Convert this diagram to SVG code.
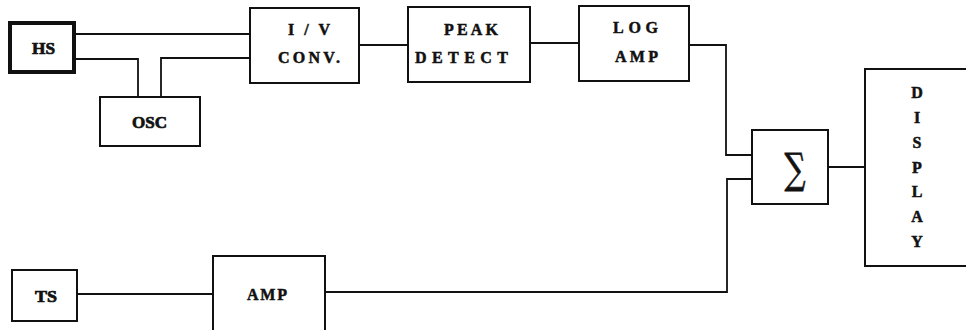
<svg xmlns="http://www.w3.org/2000/svg" width="966" height="330" viewBox="0 0 966 330">
<style>
.box{fill:#fff;stroke:#111;stroke-width:2}
.thick{fill:#fff;stroke:#111;stroke-width:4}
.wire{fill:none;stroke:#111;stroke-width:1.8}
text{font-family:"Liberation Serif","Times New Roman",serif;font-weight:bold;font-size:16px;fill:#111;text-anchor:middle;stroke:#111;stroke-width:0.5}
.big{font-size:17px;stroke-width:0.7}
</style>
<rect width="966" height="330" fill="#fff"/>
<g id="connectors">
<path class="wire" d="M75,34 H250"/>
<path class="wire" d="M75,59 H138 V97"/>
<path class="wire" d="M161,97 V58 H250"/>
<path class="wire" d="M359,45 H408"/>
<path class="wire" d="M530,43 H579"/>
<path class="wire" d="M689,45 H726 V155 H752"/>
<path class="wire" d="M325,292 H727 V179 H752"/>
<path class="wire" d="M828,167 H865"/>
<path class="wire" d="M77,294 H213"/>
</g>
<g id="hs">
<rect class="thick" x="10" y="23" width="64" height="49"/>
<text class="big" x="43.5" y="53.5" textLength="23" lengthAdjust="spacingAndGlyphs">HS</text>
</g>
<g id="osc">
<rect class="box" x="100" y="97" width="100" height="49"/>
<text class="big" x="149.5" y="128" textLength="35" lengthAdjust="spacingAndGlyphs">OSC</text>
</g>
<g id="iv">
<rect class="box" x="250" y="8" width="109" height="75"/>
<text x="309" y="35" textLength="42" lengthAdjust="spacing">I / V</text>
<text x="309" y="63" textLength="62" lengthAdjust="spacing">CONV.</text>
</g>
<g id="peak">
<rect class="box" x="408" y="7" width="122" height="75"/>
<text x="471" y="35" textLength="54" lengthAdjust="spacing">PEAK</text>
<text x="461.5" y="63" textLength="93" lengthAdjust="spacing">DETECT</text>
</g>
<g id="logamp">
<rect class="box" x="579" y="6" width="110" height="75"/>
<text x="635.5" y="33" textLength="45" lengthAdjust="spacing">LOG</text>
<text x="636.5" y="62" textLength="43" lengthAdjust="spacing">AMP</text>
</g>
<g id="sum">
<rect class="box" x="752" y="130" width="76" height="74"/>
<text transform="translate(795,183) scale(0.7,1)" x="0" y="0" style="font-weight:normal;font-size:42px;stroke-width:0.8;font-family:'DejaVu Serif','Liberation Serif',serif">∑</text>
</g>
<g id="display">
<rect class="box" x="865" y="69" width="110" height="197"/>
<text x="917" y="98">D</text>
<text x="917" y="123">I</text>
<text x="917" y="148">S</text>
<text x="917" y="173">P</text>
<text x="917" y="197">L</text>
<text x="917" y="222">A</text>
<text x="917" y="247">Y</text>
</g>
<g id="ts">
<rect class="box" x="12" y="270" width="65" height="51"/>
<text class="big" x="46" y="302" textLength="22" lengthAdjust="spacingAndGlyphs">TS</text>
</g>
<g id="amp">
<rect class="box" x="213" y="256" width="112" height="80"/>
<text x="267" y="300" textLength="40" lengthAdjust="spacing">AMP</text>
</g>
</svg>
